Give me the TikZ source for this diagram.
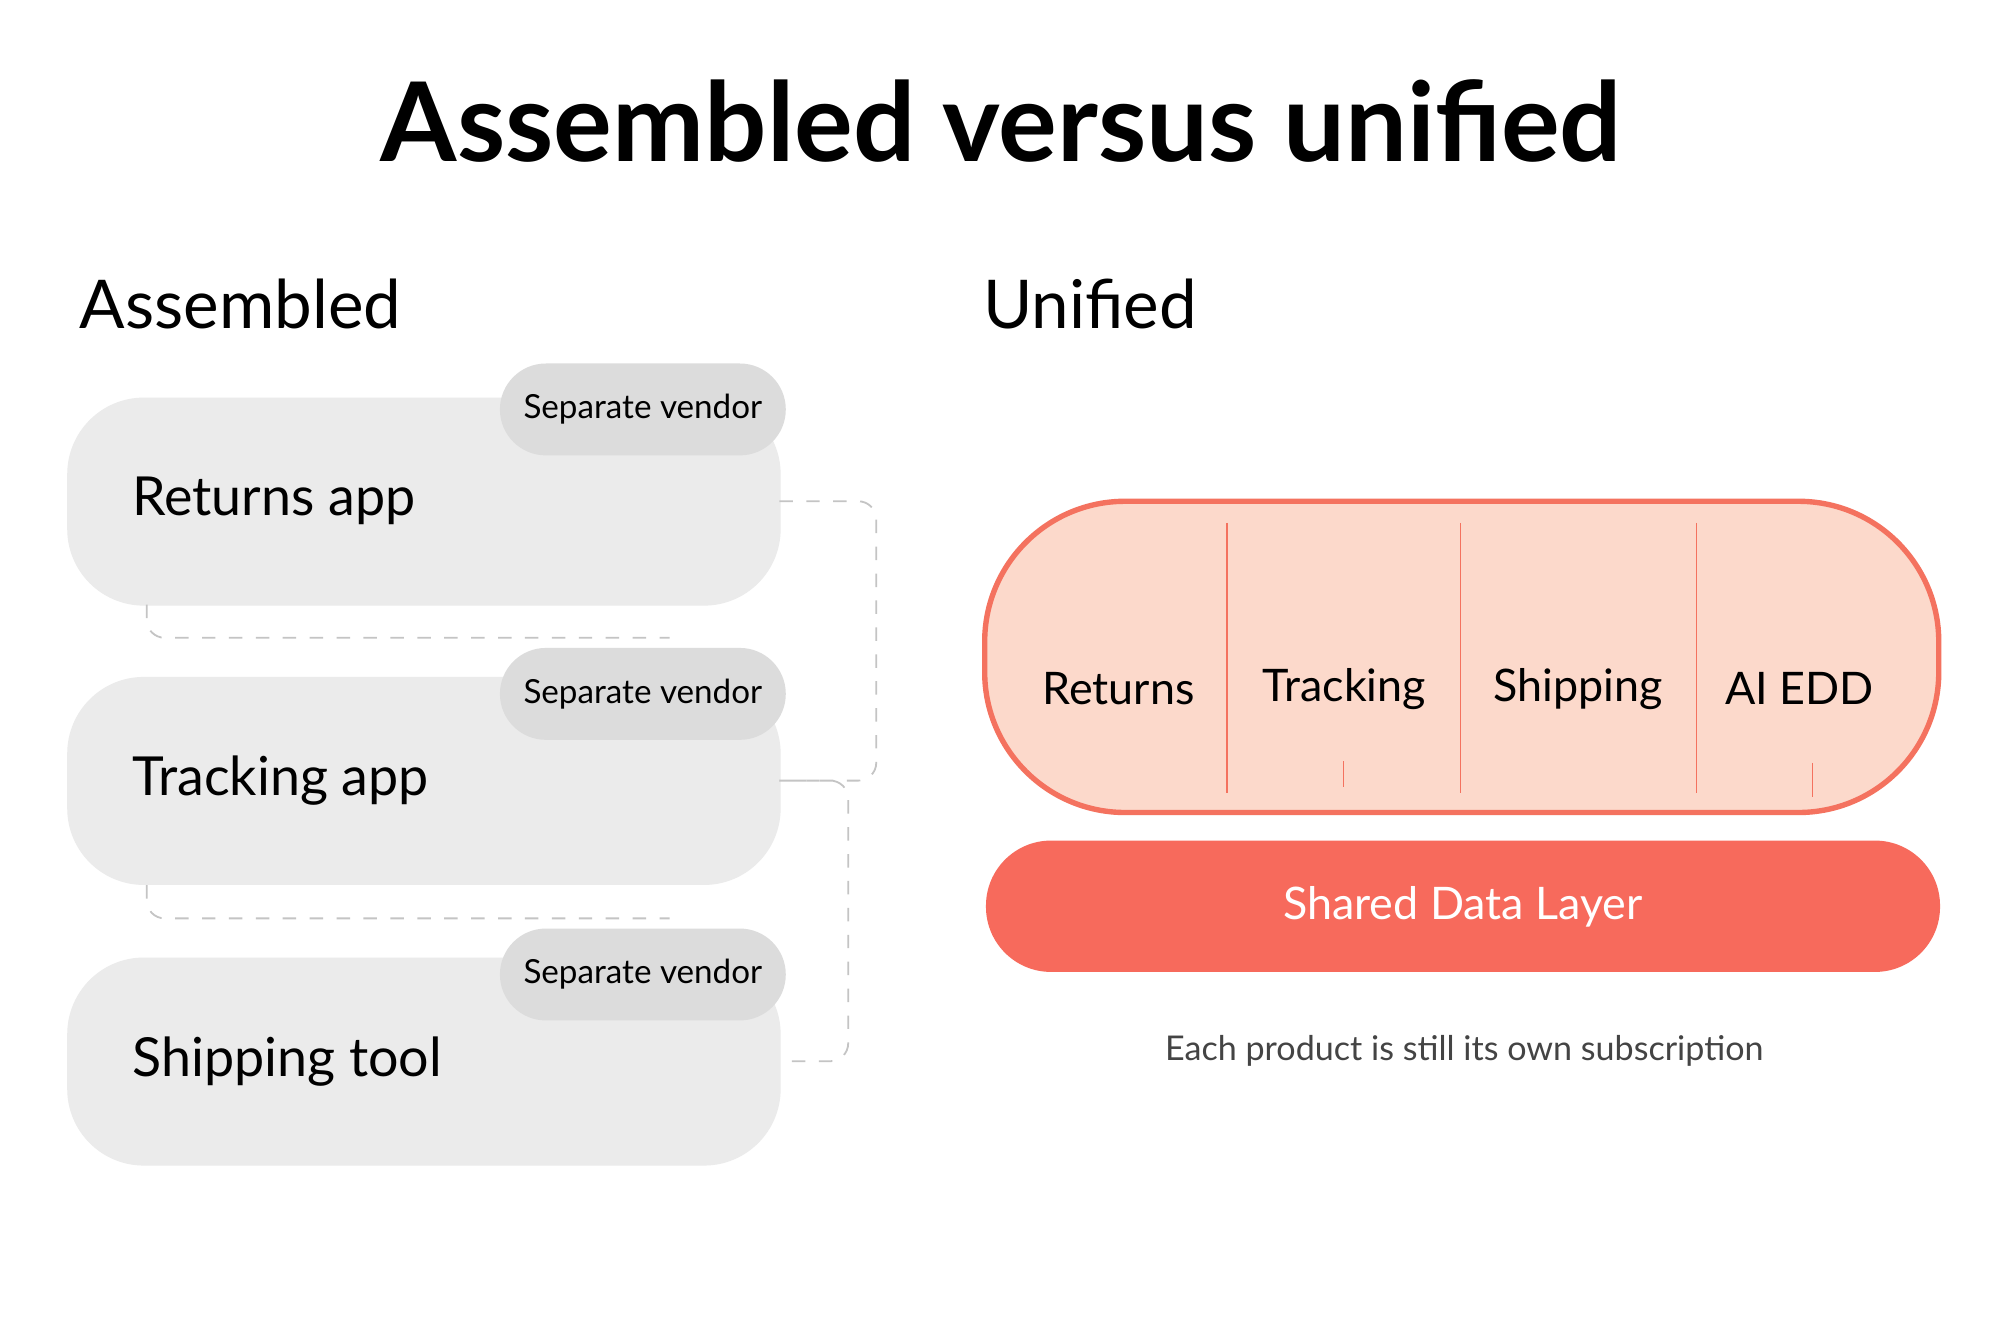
\documentclass[tikz,border=0pt]{standalone}
\usepackage{fontspec}
\setmainfont{Lato}
\usetikzlibrary{positioning}

\definecolor{appgray}{HTML}{EBEBEB}
\definecolor{badgegray}{HTML}{DCDCDC}
\definecolor{dashgray}{HTML}{C4C4C4}
\definecolor{peach}{HTML}{FCD9CB}
\definecolor{coral}{HTML}{F4725F}
\definecolor{layerred}{HTML}{F76A5C}
\definecolor{notegray}{HTML}{444444}

\tikzset{
  app/.style={fill=appgray, rounded corners=0.6cm, minimum width=5.59cm, minimum height=1.63cm, anchor=north west},
  badge/.style={fill=badgegray, rounded corners=0.36cm, minimum width=2.24cm, minimum height=0.72cm, font=\fontsize{7.4}{9}\selectfont},
  applabel/.style={font=\fontsize{12}{15}\selectfont, anchor=west, inner sep=0pt},
  module/.style={font=\fontsize{10}{13}\selectfont},
  link/.style={dashgray, dashed, thin, rounded corners=4pt}
}

\begin{document}
\begin{tikzpicture}[x=0.01cm, y=-0.01cm]
\useasboundingbox[fill=white] (0,0) rectangle (1568,1045);

% titles
\node[font=\bfseries\fontsize{24.5}{29}\selectfont] (title) at (785,95) {Assembled versus unified};
\node[font=\fontsize{15}{18}\selectfont, anchor=west, inner sep=0pt] (asm) at (62,238) {Assembled};
\node[font=\fontsize{15}{18}\selectfont, anchor=west, inner sep=0pt] (uni) at (770,238) {Unified};

% the separate apps
\node[app] (ret) at (52,311) {};
\node[applabel] at (103,393) {Returns app};
\node[badge] (vret) at (504,321) {Separate vendor};
\node[app] (trk) at (52,530) {};
\node[applabel] at (103,612) {Tracking app};
\node[badge] (vtrk) at (504,544) {Separate vendor};
\node[app] (shp) at (52,750) {};
\node[applabel] at (103,832) {Shipping tool};
\node[badge] (vshp) at (504,764) {Separate vendor};

% dashed links
\coordinate (rr) at (611,393);
\coordinate (tr) at (611,612);
\coordinate (sr) at (611,832);
\draw[link] (rr) -| (687,612) -- (tr);
\draw[link] (tr) -| (665,832) -- (sr);
\coordinate (rb) at (115,474);
\coordinate (rbe) at (525,500);
\coordinate (tb) at (115,694);
\coordinate (tbe) at (525,720);
\draw[link] (rb) |- (rbe);
\draw[link] (tb) |- (tbe);

% unified block
\draw[coral, fill=peach, line width=1.2pt, rounded corners=1.1cm] (772,393) rectangle (1520,637);
\foreach \x in {962,1145,1330}
  \draw[coral, thin] (\x,410) -- (\x,622);
\draw[coral, very thin] (1053,597) -- (1053,617);
\draw[coral, very thin] (1421,598) -- (1421,625);
\node[module] (mret) at (877,540) {Returns};
\node[module] (mtrk) at (1054,540) {Tracking};
\node[module] (mshp) at (1237,540) {Shipping};
\node[module] (medd) at (1411,540) {AI EDD};

% shared layer
\fill[layerred, rounded corners=0.51cm] (773,659) rectangle (1521,762);
\node[module, text=white] (layer) at (1147,711) {Shared Data Layer};
\node[font=\fontsize{7.6}{9}\selectfont, text=notegray] (note) at (1148,824) {Each product is still its own subscription};

\end{tikzpicture}
\end{document}
